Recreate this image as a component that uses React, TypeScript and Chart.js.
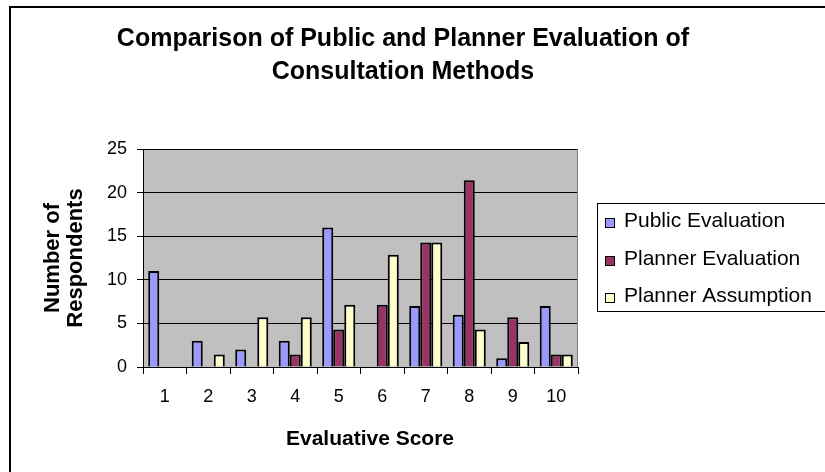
import React, { useEffect, useRef } from "react";
import { Chart, registerables } from "chart.js";

Chart.register(...registerables);

const categories = ["1", "2", "3", "4", "5", "6", "7", "8", "9", "10"];
const publicEvaluation = [11, 3, 2, 3, 16, 0, 7, 6, 1, 7];
const plannerEvaluation = [0, 0, 0, 1.43, 4.29, 7.14, 14.29, 21.43, 5.71, 1.43];
const plannerAssumption = [0, 1.43, 5.71, 5.71, 7.14, 12.86, 14.29, 4.29, 2.86, 1.43];
const seriesLabels = ["Public Evaluation", "Planner Evaluation", "Planner Assumption"];
const seriesColors = ["#9999FF", "#993366", "#FFFFCC"];
const yTicks = [0, 5, 10, 15, 20, 25];
const titleLines = ["Comparison of Public and Planner Evaluation of", "Consultation Methods"];
const yAxisTitle = ["Number of", "Respondents"];
const xAxisTitle = "Evaluative Score";

const FONT = '"Liberation Sans", Arial, Helvetica, sans-serif';

const decorPlugin = {
  id: "decor",
  beforeDraw(chart: any) {
    const { ctx, chartArea: a } = chart;
    ctx.save();
    ctx.fillStyle = "#ffffff";
    ctx.fillRect(0, 0, chart.width, chart.height);
    ctx.fillStyle = "#C0C0C0";
    ctx.fillRect(a.left, a.top, a.right - a.left, a.bottom - a.top);
    ctx.restore();
  },
  afterDraw(chart: any) {
    const { ctx, chartArea: a } = chart;
    ctx.save();
    // plot area right border
    ctx.strokeStyle = "#808080";
    ctx.lineWidth = 1;
    ctx.beginPath();
    ctx.moveTo(Math.round(a.right) - 0.5, a.top);
    ctx.lineTo(Math.round(a.right) - 0.5, a.bottom);
    ctx.stroke();

    // outer chart border
    ctx.strokeStyle = "#000";
    ctx.lineWidth = 2;
    ctx.strokeRect(10, 7, 900, 600);

    // title
    ctx.fillStyle = "#000";
    ctx.font = `bold 25px ${FONT}`;
    ctx.textAlign = "center";
    ctx.textBaseline = "alphabetic";
    const titleBaselines = [46, 79];
    titleLines.forEach((t, i) => ctx.fillText(t, 403, titleBaselines[i]));

    // x axis title
    ctx.font = `bold 21px ${FONT}`;
    ctx.fillText(xAxisTitle, 370, 445);

    // legend
    ctx.lineWidth = 1;
    ctx.strokeStyle = "#000";
    ctx.strokeRect(597.5, 203.5, 300, 108);
    const baselines = [227, 265, 302];
    ctx.font = `21px ${FONT}`;
    ctx.textAlign = "left";
    chart.data.datasets.forEach((ds: any, i: number) => {
      const b = baselines[i];
      ctx.fillStyle = ds.backgroundColor;
      ctx.fillRect(605.5, b - 8.5, 9, 9);
      ctx.strokeRect(605.5, b - 8.5, 9, 9);
      ctx.fillStyle = "#000";
      ctx.fillText(ds.label, 624, b);
    });
    ctx.restore();
  },
};

export default function App() {
  const canvasRef = useRef<HTMLCanvasElement | null>(null);

  useEffect(() => {
    if (!canvasRef.current) return;
    const series = [publicEvaluation, plannerEvaluation, plannerAssumption];
    const chart = new Chart(canvasRef.current, {
      type: "bar",
      data: {
        labels: categories,
        datasets: series.map((d, i) => ({
          label: seriesLabels[i],
          data: d,
          backgroundColor: seriesColors[i],
          borderColor: "#000",
          borderWidth: 2,
          categoryPercentage: 0.76,
          barPercentage: 1,
        })),
      },
      options: {
        animation: false,
        responsive: false,
        devicePixelRatio: 1,
        layout: { padding: { left: 0, top: 149, right: 247, bottom: 0 } },
        plugins: {
          legend: { display: false },
          title: { display: false },
          tooltip: { enabled: false },
        },
        scales: {
          x: {
            grid: {
              display: true,
              drawOnChartArea: false,
              drawTicks: true,
              tickLength: 7,
              color: "#000",
              offset: true,
            },
            border: { display: true, color: "#000", width: 1 },
            ticks: {
              color: "#000",
              font: { family: FONT, size: 18 },
              padding: 12,
              maxRotation: 0,
              autoSkip: false,
            },
            title: { display: false },
            afterFit: (s: any) => {
              s.height = 105;
            },
          },
          y: {
            min: 0,
            max: 25,
            afterBuildTicks: (s: any) => {
              s.ticks = yTicks.map((v) => ({ value: v }));
            },
            ticks: {
              color: "#000",
              font: { family: FONT, size: 18 },
              padding: 10,
            },
            grid: { color: "#000", tickLength: 6, lineWidth: 1 },
            border: { display: true, color: "#000", width: 1 },
            title: {
              display: true,
              text: yAxisTitle,
              color: "#000",
              font: { family: FONT, size: 22, weight: "bold", lineHeight: "23px" },
              padding: { top: 41, bottom: 0 },
            },
            afterFit: (s: any) => {
              s.width = 143;
            },
          },
        },
      },
      plugins: [decorPlugin],
    } as any);
    return () => chart.destroy();
  }, []);

  return (
    <div
      style={{
        position: "fixed",
        left: 0,
        top: 0,
        width: 825,
        height: 472,
        background: "#fff",
        overflow: "hidden",
      }}
    >
      <canvas ref={canvasRef} width={825} height={472} />
    </div>
  );
}
